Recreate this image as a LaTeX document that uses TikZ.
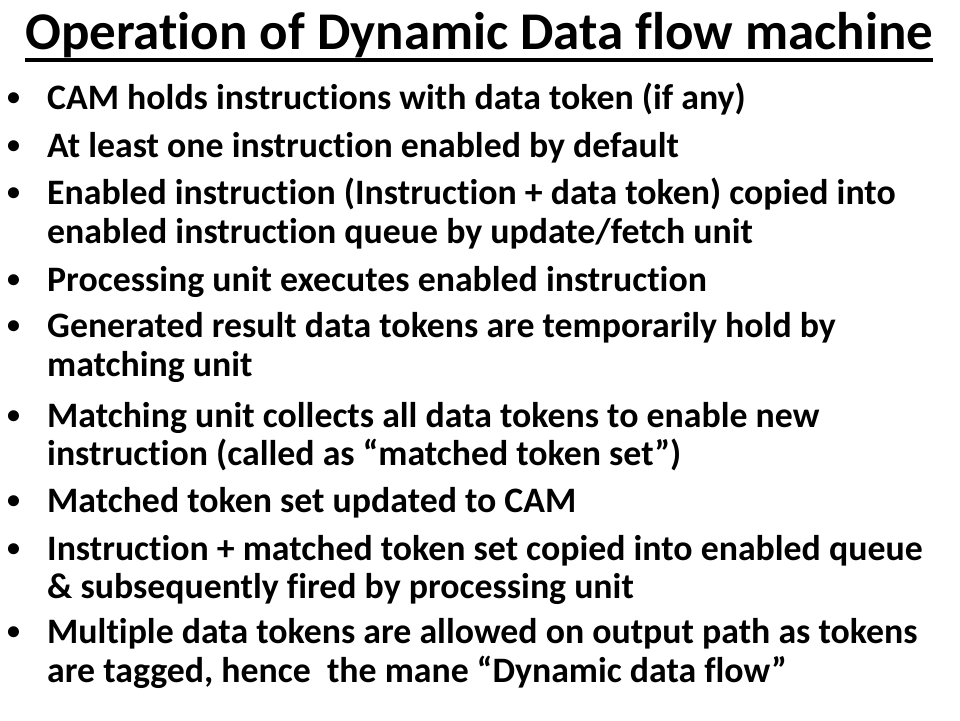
\documentclass[tikz,border=0pt]{standalone}
\usepackage{fontspec}
\setmainfont{Carlito}[Ligatures={NoCommon}]
\begin{document}
\begin{tikzpicture}[x=1pt,y=1pt,
	heading/.style={anchor=base west,inner sep=0pt,font=\fontsize{53}{53}\selectfont\bfseries},
	item/.style={anchor=base west,inner sep=0pt,font=\fontsize{35.8}{35.8}\selectfont\bfseries},
	dot/.style={item,font=\fontsize{26}{26}\selectfont\bfseries}]
	\useasboundingbox (0,0) rectangle (960,-720);
	
	% Title with its underline
	\node[heading] (title) at (25,-49) {Operation of Dynamic Data flow machine};
	\draw[line width=4pt] ([yshift=-11pt]title.base west) -- ([yshift=-11pt]title.base east);
	
	% Bullets
	\foreach \y/\name in {109/b1,157/b2,204/b3,291/b4,337/b5,427/b6,512/b7,560/b8,643/b9}
		\node[dot] (\name) at (7,-\y+4) {•};
	
	% Text of the bullets, one node per line
	\node[item] (l1) at (47,-109) {CAM holds instructions with data token (if any)};
	\node[item] (l2) at (47,-157) {At least one instruction enabled by default};
	\node[item] (l3a) at (47,-204) {Enabled instruction (Instruction + data token) copied into};
	\node[item] (l3b) at (47,-243) {enabled instruction queue by update/fetch unit};
	\node[item] (l4) at (47,-291) {Processing unit executes enabled instruction};
	\node[item] (l5a) at (47,-337) {Generated result data tokens are temporarily hold by};
	\node[item] (l5b) at (47,-376) {matching unit};
	\node[item] (l6a) at (47,-427) {Matching unit collects all data tokens to enable new};
	\node[item] (l6b) at (47,-465) {instruction (called as “matched token set”)};
	\node[item] (l7) at (47,-512) {Matched token set updated to CAM};
	\node[item] (l8a) at (47,-560) {Instruction + matched token set copied into enabled queue};
	\node[item] (l8b) at (47,-598) {\& subsequently fired by processing unit};
	\node[item] (l9a) at (47,-643) {Multiple data tokens are allowed on output path as tokens};
	\node[item] (l9b) at (47,-682) {are tagged, hence~ the mane “Dynamic data flow”};
\end{tikzpicture}
\end{document}
